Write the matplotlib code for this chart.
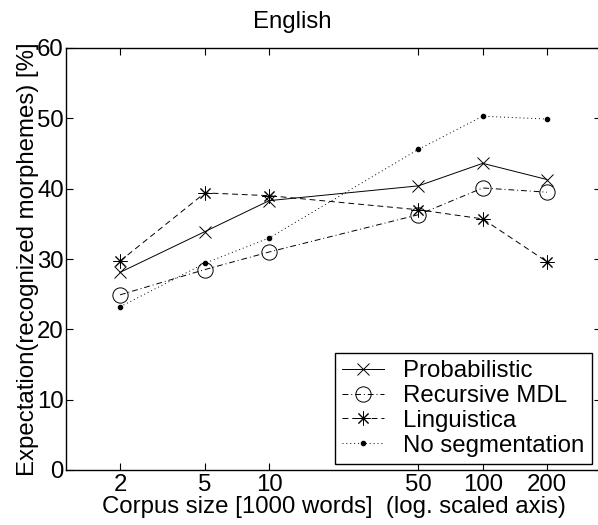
import matplotlib
matplotlib.use("Agg")
import matplotlib.pyplot as plt
from matplotlib.ticker import NullLocator, FixedLocator, FixedFormatter

plt.rcParams['font.family'] = ['Liberation Sans', 'DejaVu Sans']

corpus_size = [2, 5, 10, 50, 100, 200]
tick_labels = ['2', '5', '10', '50', '100', '200']
probabilistic = [28.1, 33.9, 38.3, 40.4, 43.6, 41.3]
recursive_mdl = [24.9, 28.5, 31.0, 36.3, 40.1, 39.5]
linguistica = [29.7, 39.4, 39.0, 37.0, 35.7, 29.6]
no_segmentation = [23.2, 29.4, 33.0, 45.6, 50.3, 49.9]

W, H = 598, 525
fig = plt.figure(figsize=(W / 100, H / 100), dpi=100)
ax = fig.add_axes([66 / W, (H - 470) / H, (601 - 66) / W, (470 - 48) / H])

fs = 17.3
lw = 0.7
ax.plot(corpus_size, probabilistic, color='black', linestyle='-', linewidth=lw,
        marker='x', markersize=8, markeredgewidth=0.7, label='Probabilistic')
ax.plot(corpus_size, recursive_mdl, color='black', linestyle=(0, (6, 3, 1, 3)), linewidth=lw,
        marker='o', markersize=11, markerfacecolor='none', markeredgewidth=0.7,
        label='Recursive MDL')
ax.plot(corpus_size, linguistica, color='black', linestyle=(0, (6, 4)), linewidth=lw,
        marker=(8, 2, 0), markersize=10, markeredgewidth=0.7, label='Linguistica')
ax.plot(corpus_size, no_segmentation, color='black', linestyle=(0, (1, 3)), linewidth=lw,
        marker='.', markersize=6, label='No segmentation')

ax.set_xscale('log')
ax.set_xlim(1.117, 358)
ax.set_ylim(0, 60)
ax.xaxis.set_major_locator(FixedLocator(corpus_size))
ax.xaxis.set_major_formatter(FixedFormatter(tick_labels))
ax.xaxis.set_minor_locator(NullLocator())
ax.set_yticks([0, 10, 20, 30, 40, 50, 60])
ax.tick_params(direction='in', length=5, width=0.8, top=True, right=True,
               labelsize=fs)
ax.tick_params(axis='x', pad=3)
ax.tick_params(axis='y', pad=1.5)
for s in ax.spines.values():
    s.set_linewidth(1.0)

ax.set_xlabel('Corpus size [1000 words]  (log. scaled axis)', fontsize=fs, labelpad=0)
ax.set_ylabel('Expectation(recognized morphemes) [%]', fontsize=fs, labelpad=-1)
fig.text(292 / W, 1 - 22 / H, 'English', fontsize=fs, ha='center', va='center')

leg = ax.legend(loc='lower left', bbox_to_anchor=(335 / W, (H - 464) / H),
                bbox_transform=fig.transFigure, fontsize=fs, frameon=True,
                fancybox=False, edgecolor='black', framealpha=1,
                handlelength=1.75, handletextpad=0.8, borderpad=0.3,
                labelspacing=0.12, borderaxespad=0)
leg.get_frame().set_linewidth(1.0)

fig.savefig('out.png', dpi=100)
